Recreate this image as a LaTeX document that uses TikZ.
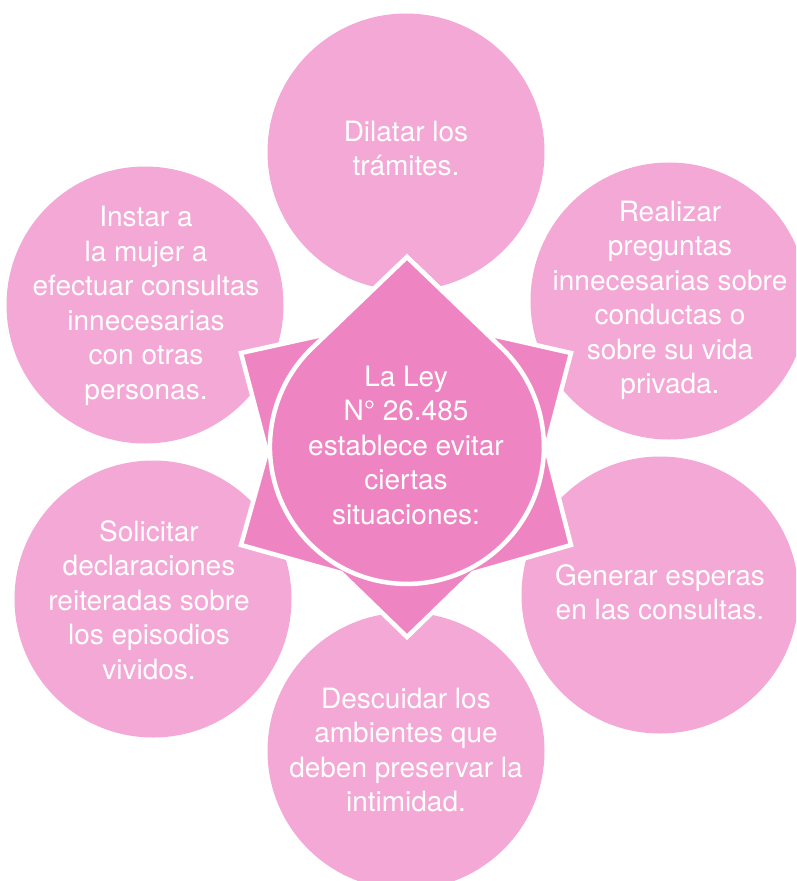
\documentclass[tikz,border=0pt]{standalone}
\usepackage{fontspec}
\setmainfont{TeX Gyre Heros}
\definecolor{circpink}{RGB}{243,168,214}
\definecolor{starpink}{RGB}{238,133,194}
\begin{document}
\begin{tikzpicture}[x=1pt,y=-1pt,
  bubble/.style={circle, fill=circpink, draw=none, minimum size=277pt, inner sep=0pt},
  lbl/.style={text=white, font=\fontsize{28}{34.5}\selectfont, align=center, inner sep=0pt},
  outline/.style={fill=starpink, draw=white, line width=4.5pt, line join=miter}]
\useasboundingbox (0,0) rectangle (796,881);
\begin{scope}
\clip (0,0) rectangle (796,881);
\node[bubble] (c1) at (406,152) {};
\node[bubble] (c2) at (145,305) {};
\node[bubble] (c3) at (669,301) {};
\node[bubble] (c4) at (153,599) {};
\node[bubble] (c5) at (660,595) {};
\node[bubble] (c6) at (406,751) {};
% star
\draw[outline] (407,257) -- (487,334) -- (571,353) -- (546,448) -- (571,545) -- (473,573)
  -- (407,637) -- (341,573) -- (241,545) -- (267,452) -- (241,353) -- (327,334) -- cycle;
% drop
\draw[outline] (407,257) -- (501.9,348.2) arc[start angle=-46.1, end angle=226.1, radius=137] -- cycle;
\end{scope}
\node[lbl] (t1) at (406,148.5) {Dilatar los\\trámites.};
\node[lbl] (t2) at (146,306) {Instar a\\la mujer a\\efectuar consultas\\innecesarias\\con otras\\personas.};
\node[lbl] (t3) at (670,300.5) {Realizar\\preguntas\\innecesarias sobre\\conductas o\\sobre su vida\\privada.};
\node[lbl] (t0) at (406,445) {La Ley\\N° 26.485\\establece evitar\\ciertas\\situaciones:};
\node[lbl] (t4) at (149,600) {Solicitar\\declaraciones\\reiteradas sobre\\los episodios\\vividos.};
\node[lbl] (t5) at (660,592) {Generar esperas\\en las consultas.};
\node[lbl] (t6) at (406,750) {Descuidar los\\ambientes que\\deben preservar la\\intimidad.};
\end{tikzpicture}
\end{document}
